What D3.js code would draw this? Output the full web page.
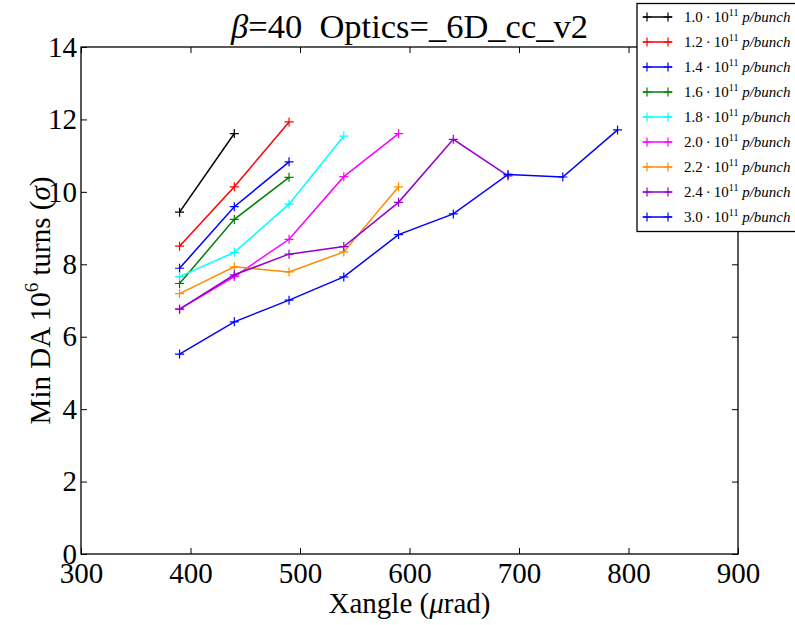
<!DOCTYPE html>
<html><head><meta charset="utf-8">
<script src="https://cdn.jsdelivr.net/npm/d3@7"></script>
<style>body{margin:0;background:#fff}svg{display:block}text{font-family:"Liberation Serif","Times New Roman",serif;white-space:pre}</style>
</head><body>
<script>
const xValues = [390, 440, 490, 540, 590, 640, 690, 740, 790];
const seriesLabels = ["1.0", "1.2", "1.4", "1.6", "1.8", "2.0", "2.2", "2.4", "3.0"];
const seriesColors = ["#000000", "#ff0000", "#0000ff", "#008000", "#00ffff", "#ff00ff", "#ff8c00", "#9400d3", "#0000ff"];
const s10 = [9.44, 11.61];
const s12 = [8.50, 10.14, 11.93];
const s14 = [7.89, 9.59, 10.83];
const s16 = [7.47, 9.24, 10.40];
const s18 = [7.66, 8.33, 9.66, 11.54];
const s20 = [6.76, 7.66, 8.69, 10.42, 11.61];
const s22 = [7.19, 7.93, 7.79, 8.34, 10.14];
const s24 = [6.76, 7.71, 8.28, 8.49, 9.71, 11.45, 10.44];
const s30 = [5.52, 6.41, 7.01, 7.65, 8.82, 9.39, 10.48, 10.41, 11.71];
const seriesValues = [s10, s12, s14, s16, s18, s20, s22, s24, s30];
const xTicks = [300, 400, 500, 600, 700, 800, 900];
const yTicks = [0, 2, 4, 6, 8, 10, 12, 14];

const W = 795, H = 625;
const L = 81, R = 738, T = 47, B = 554;
const FF = '"Liberation Serif","Times New Roman",serif';
const svg = d3.select("body").append("svg").attr("width", W).attr("height", H);
const x = d3.scaleLinear().domain([300, 900]).range([L, R]);
const y = d3.scaleLinear().domain([0, 14]).range([B, T]);

// data
const line = d3.line().x((d, i) => x(xValues[i])).y(d => y(d));
const gData = svg.append("g");
seriesValues.forEach((vals, si) => {
  const g = gData.append("g");
  g.append("path").attr("d", line(vals)).attr("fill", "none")
    .attr("stroke", seriesColors[si]).attr("stroke-width", 1.5);
  vals.forEach((v, i) => {
    const cx = x(xValues[i]), cy = y(v), m = 4.5;
    g.append("path").attr("d", `M${cx - m},${cy}H${cx + m}M${cx},${cy - m}V${cy + m}`)
      .attr("stroke", seriesColors[si]).attr("stroke-width", 1.2);
  });
});

// axes
const tl = 6;
const axB = d3.axisBottom(x).tickValues(xTicks).tickSize(-tl).tickPadding(8).tickFormat(d3.format("d"));
const axT = d3.axisTop(x).tickValues(xTicks).tickSize(-tl).tickFormat("");
const axL = d3.axisLeft(y).tickValues(yTicks).tickSize(-tl).tickPadding(4).tickFormat(d3.format("d"));
const axR = d3.axisRight(y).tickValues(yTicks).tickSize(-tl).tickFormat("");
function style(g) {
  g.attr("font-family", FF).attr("font-size", 29);
  g.select(".domain").remove();
  g.selectAll("line").attr("stroke", "#000").attr("stroke-width", 1);
  g.selectAll("text").attr("fill", "#000");
}
svg.append("g").attr("transform", `translate(0,${B})`).call(axB).call(style);
svg.append("g").attr("transform", `translate(0,${T})`).call(axT).call(style);
svg.append("g").attr("transform", `translate(${L},0)`).call(axL).call(style);
svg.append("g").attr("transform", `translate(${R},0)`).call(axR).call(style);
svg.append("rect").attr("x", L).attr("y", T).attr("width", R - L).attr("height", B - T)
  .attr("fill", "none").attr("stroke", "#000").attr("stroke-width", 1.3);

// title
const title = svg.append("text").attr("x", (L + R) / 2).attr("y", 38)
  .attr("text-anchor", "middle").attr("font-size", 34.5);
title.append("tspan").attr("font-style", "italic").text("β");
title.append("tspan").text("=40  Optics=_6D_cc_v2");

// x label
const xl = svg.append("text").attr("x", (L + R) / 2).attr("y", 613)
  .attr("text-anchor", "middle").attr("font-size", 29);
xl.append("tspan").text("Xangle (");
xl.append("tspan").attr("font-style", "italic").text("μ");
xl.append("tspan").text("rad)");

// y label
const yl = svg.append("text").attr("transform", `translate(50,${(T + B) / 2}) rotate(-90)`)
  .attr("text-anchor", "middle").attr("font-size", 29);
yl.append("tspan").text("Min DA 10");
yl.append("tspan").attr("font-size", 19).attr("dy", -12).text("6");
yl.append("tspan").attr("dy", 12).text(" turns (");
yl.append("tspan").attr("font-style", "italic").text("σ");
yl.append("tspan").text(")");

// legend
const lg = svg.append("g");
lg.append("rect").attr("x", 637).attr("y", 3.5).attr("width", 170).attr("height", 228)
  .attr("fill", "#fff").attr("stroke", "#000").attr("stroke-width", 1.3);
seriesLabels.forEach((lab, i) => {
  const ly = 17 + i * 25;
  lg.append("line").attr("x1", 643).attr("x2", 672).attr("y1", ly).attr("y2", ly)
    .attr("stroke", seriesColors[i]).attr("stroke-width", 1.5);
  [647, 668].forEach(mx => {
    lg.append("path").attr("d", `M${mx - 4.5},${ly}H${mx + 4.5}M${mx},${ly - 4.5}V${ly + 4.5}`)
      .attr("stroke", seriesColors[i]).attr("stroke-width", 1.2);
  });
  const t = lg.append("text").attr("x", 684).attr("y", ly + 5).attr("font-size", 15);
  t.append("tspan").text(lab + "\u2009·\u200910");
  t.append("tspan").attr("font-size", 10).attr("dy", -6).text("11");
  t.append("tspan").attr("dy", 6).attr("font-style", "italic").text(" p/bunch");
});
</script>
</body></html>
